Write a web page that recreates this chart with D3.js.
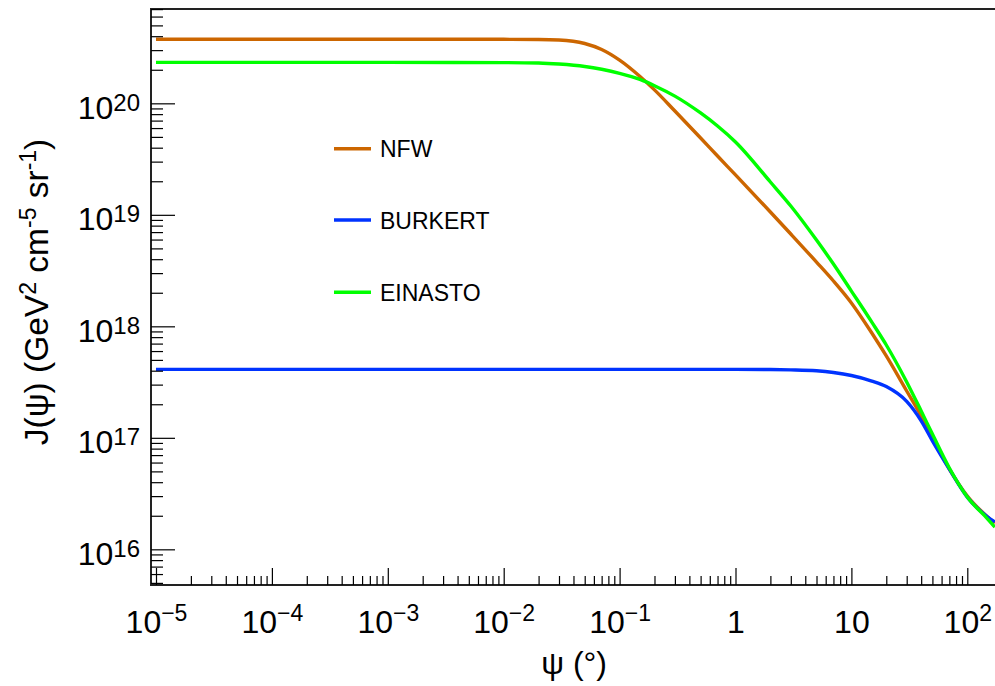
<!DOCTYPE html>
<html><head><meta charset="utf-8">
<script src="https://cdn.jsdelivr.net/npm/d3@7"></script>
<style>
body{margin:0;background:#fff}
svg{display:block}
text{font-family:"Liberation Sans",Arial,Helvetica,sans-serif;fill:#000}
</style>
</head><body><svg id="c" width="995" height="686"></svg>
<script>
// ---- data ----
const psi = [1e-5, 1e-4, 1e-3, 1e-2, 0.02, 0.03, 0.05, 0.07, 0.1, 0.15, 0.2, 0.3, 0.5, 0.7, 1, 2, 3, 5, 7, 10, 15, 20, 30, 40, 50, 70, 100, 150, 173];
const nfw = [3.75e20, 3.75e20, 3.75e20, 3.75e20, 3.74e20, 3.70e20, 3.44e20, 3.04e20, 2.44e20, 1.74e20, 1.32e20, 8.53e19, 4.89e19, 3.37e19, 2.28e19, 1.06e19, 6.73e18, 3.77e18, 2.55e18, 1.62e18, 8.71e17, 5.42e17, 2.63e17, 1.57e17, 9.96e16, 5.25e16, 3.01e16, 1.95e16, 1.72e16];
const burkert = [4.11e17, 4.11e17, 4.11e17, 4.11e17, 4.11e17, 4.11e17, 4.11e17, 4.11e17, 4.11e17, 4.11e17, 4.11e17, 4.11e17, 4.11e17, 4.11e17, 4.11e17, 4.10e17, 4.07e17, 3.99e17, 3.85e17, 3.62e17, 3.23e17, 2.88e17, 2.12e17, 1.42e17, 9.40e16, 5.25e16, 2.94e16, 1.95e16, 1.76e16];
const einasto = [2.33e20, 2.33e20, 2.33e20, 2.32e20, 2.30e20, 2.25e20, 2.14e20, 2.02e20, 1.86e20, 1.64e20, 1.44e20, 1.16e20, 8.19e19, 6.26e19, 4.50e19, 1.97e19, 1.20e19, 5.94e18, 3.62e18, 2.07e18, 1.09e18, 6.80e17, 3.17e17, 1.74e17, 1.08e17, 5.36e16, 2.94e16, 1.87e16, 1.58e16];
const seriesNames = ["NFW", "BURKERT", "EINASTO"];
const seriesColors = ["#cc6600", "#0033ff", "#00ff00"];
const xMajorTicks = [1e-5, 1e-4, 1e-3, 1e-2, 1e-1, 1, 10, 100];
const xTickLabels = [["10","\u22125"],["10","\u22124"],["10","\u22123"],["10","\u22122"],["10","\u22121"],["1",""],["10",""],["10","2"]];
const yMajorTicks = [1e16, 1e17, 1e18, 1e19, 1e20];
const yTickLabels = [["10","16"],["10","17"],["10","18"],["10","19"],["10","20"]];

// ---- layout ----
const L = 151, R = 995, T = 9, B = 585;
const svg = d3.select("#c");
const x = d3.scaleLog().domain([Math.pow(10,-5.0431), Math.pow(10,2.239)]).range([L, R]);
const y = d3.scaleLog().domain([Math.pow(10,15.680), Math.pow(10,20.846)]).range([B, T]);

function minors(scale, lo, hi) {
  const out = [];
  const [d0, d1] = scale.domain();
  for (let e = lo; e <= hi; e++) for (let k = 2; k <= 9; k++) {
    const v = k * Math.pow(10, e);
    if (v > d0 && v < d1) out.push(v);
  }
  return out;
}

// curves
const line = d3.line().x((d) => x(d[0])).y((d) => y(d[1])).curve(d3.curveMonotoneX);
svg.append("clipPath").attr("id","clip").append("rect").attr("x",L).attr("y",T).attr("width",R-L+5).attr("height",B-T);
const series = [nfw, burkert, einasto];
const g = svg.append("g").attr("clip-path","url(#clip)");
series.forEach((s, i) => {
  g.append("path").datum(psi.map((p, j) => [p, s[j]]))
    .attr("d", line).attr("fill","none").attr("stroke", seriesColors[i])
    .attr("stroke-width", 3.4).attr("stroke-linejoin","round");
});

// frame
svg.append("path").attr("d", `M${R+5},${T}H${L}V${B}H${R+5}`).attr("fill","none").attr("stroke","#222").attr("stroke-width",2);

// y axis
const yAx = svg.append("g").attr("transform", `translate(${L},0)`)
  .call(d3.axisLeft(y).tickValues(yMajorTicks).tickSizeInner(-24).tickSizeOuter(0).tickPadding(11).tickFormat(""));
yAx.select(".domain").remove();
yAx.selectAll(".tick line").attr("stroke","#000").attr("stroke-width",1.2);
yAx.selectAll(".tick text").each(function(d, i) {
  const t = d3.select(this).attr("dy", null).attr("y", 15).style("font-size","32px").attr("text-anchor","end");
  t.append("tspan").text(yTickLabels[i][0]);
  t.append("tspan").attr("dy", -8).style("font-size","24px").text(yTickLabels[i][1]);
});
const yMin = svg.append("g").attr("transform", `translate(${L},0)`)
  .call(d3.axisLeft(y).tickValues(minors(y, 15, 20)).tickSizeInner(-12).tickSizeOuter(0).tickFormat(""));
yMin.select(".domain").remove();
yMin.selectAll(".tick line").attr("stroke","#000").attr("stroke-width",1.2);

// x axis
const xAx = svg.append("g").attr("transform", `translate(0,${B})`)
  .call(d3.axisBottom(x).tickValues(xMajorTicks).tickSizeInner(-17).tickSizeOuter(0).tickPadding(0).tickFormat(""));
xAx.select(".domain").remove();
xAx.selectAll(".tick line").attr("stroke","#000").attr("stroke-width",1.2);
xAx.selectAll(".tick text").each(function(d, i) {
  const t = d3.select(this).attr("dy", null).attr("y", 48).style("font-size","32px").attr("text-anchor","middle");
  t.append("tspan").text(xTickLabels[i][0]);
  if (xTickLabels[i][1]) t.append("tspan").attr("dy", -12).style("font-size","23px").text(xTickLabels[i][1]);
});
const xMin = svg.append("g").attr("transform", `translate(0,${B})`)
  .call(d3.axisBottom(x).tickValues(minors(x, -6, 2)).tickSizeInner(-9).tickSizeOuter(0).tickFormat(""));
xMin.select(".domain").remove();
xMin.selectAll(".tick line").attr("stroke","#000").attr("stroke-width",1.2);

// axis titles
svg.append("text").attr("x", 607).attr("y", 674).attr("text-anchor","end").style("font-size","32px").text("\u03c8 (\u00b0)");
const yt = svg.append("text").attr("transform","translate(48,292) rotate(-90)").attr("text-anchor","middle").style("font-size","33.5px");
yt.append("tspan").text("J(\u03c8) (GeV");
yt.append("tspan").attr("dy",-12).style("font-size","23px").text("2");
yt.append("tspan").attr("dy",12).text(" cm");
yt.append("tspan").attr("dy",-12).style("font-size","23px").text("-5");
yt.append("tspan").attr("dy",12).text(" sr");
yt.append("tspan").attr("dy",-12).style("font-size","23px").text("-1");
yt.append("tspan").attr("dy",12).text(")");

// legend
const legY = [148.7, 220, 292.3];
seriesNames.forEach((n, i) => {
  svg.append("line").attr("x1",334).attr("x2",371).attr("y1",legY[i]).attr("y2",legY[i]).attr("stroke",seriesColors[i]).attr("stroke-width",3.5);
  svg.append("text").attr("x",380).attr("y",legY[i]+8.5).style("font-size","23px").text(n);
});
</script></body></html>
